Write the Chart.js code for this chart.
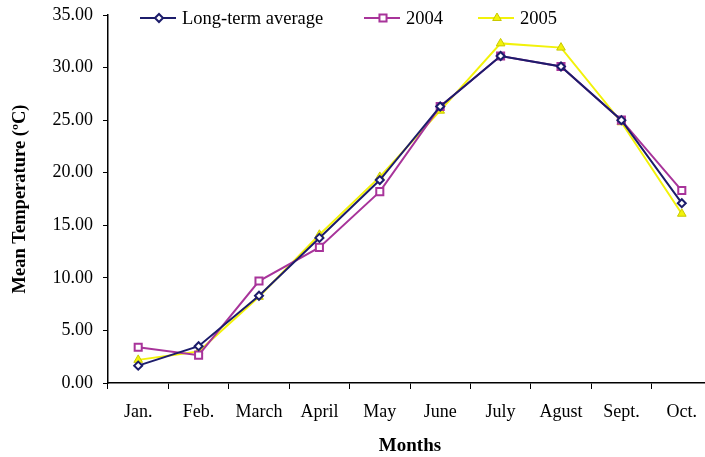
<!DOCTYPE html>
<html>
<head>
<meta charset="utf-8">
<script src="https://cdn.jsdelivr.net/npm/chart.js@4"></script>
<style>
  html, body { margin: 0; padding: 0; background: #fff; overflow: hidden; }
  #wrap { width: 720px; height: 457px; }
</style>
</head>
<body>
<div id="wrap"><canvas id="chart"></canvas></div>
<script>
const months = ["Jan.", "Feb.", "March", "April", "May", "June", "July", "Agust", "Sept.", "Oct."];
const longTermAverage = [1.65, 3.5, 8.3, 13.8, 19.3, 26.3, 31.1, 30.1, 25.0, 17.1];
const year2004 = [3.4, 2.65, 9.7, 12.9, 18.2, 26.3, 31.1, 30.1, 25.0, 18.3];
const year2005 = [2.2, 3.0, 8.2, 14.1, 19.6, 25.9, 32.3, 31.9, 24.8, 16.1];

const NAVY = "#1c1c6b";
const MAGENTA = "#a8349a";
const YELLOW = "#f2f20a";
const FONT = "'Liberation Serif', 'Times New Roman', serif";

// legend drawn over the top of the plot, like the original
const overlayLegend = {
    id: "overlayLegend",
    afterDraw(chart) {
        const ctx = chart.ctx;
        const items = [
            { label: "Long-term average", x: 140, ds: 0 },
            { label: "2004", x: 364, ds: 1 },
            { label: "2005", x: 478, ds: 2 },
        ];
        const y = 18;
        ctx.save();
        ctx.font = "18.5px " + FONT;
        ctx.textBaseline = "middle";
        items.forEach(it => {
            const ds = chart.data.datasets[it.ds];
            ctx.strokeStyle = ds.borderColor;
            ctx.lineWidth = 2;
            ctx.beginPath();
            ctx.moveTo(it.x, y);
            ctx.lineTo(it.x + 36, y);
            ctx.stroke();
            ctx.fillStyle = ds.pointBackgroundColor;
            ctx.strokeStyle = ds.pointBorderColor;
            ctx.lineWidth = ds.pointBorderWidth;
            Chart.helpers.drawPoint(ctx, {
                pointStyle: ds.pointStyle,
                radius: ds.pointRadius,
                borderWidth: ds.pointBorderWidth,
                rotation: 0,
            }, it.x + 19, y);
            ctx.fillStyle = "#000";
            ctx.fillText(it.label, it.x + 42, y + 1);
        });
        ctx.restore();
    }
};

new Chart(document.getElementById("chart"), {
    type: "line",
    data: {
        labels: months,
        datasets: [{
            label: "Long-term average",
            data: longTermAverage,
            borderColor: NAVY,
            borderWidth: 2,
            backgroundColor: "#fff",
            pointStyle: "rectRot",
            pointRadius: 4,
            pointBorderWidth: 2,
            pointBorderColor: NAVY,
            pointBackgroundColor: "#fff",
            tension: 0,
        }, {
            label: "2004",
            data: year2004,
            borderColor: MAGENTA,
            borderWidth: 2,
            backgroundColor: "#fff",
            pointStyle: "rect",
            pointRadius: 5,
            pointBorderWidth: 2,
            pointBorderColor: MAGENTA,
            pointBackgroundColor: "#fff",
            tension: 0,
        }, {
            label: "2005",
            data: year2005,
            borderColor: YELLOW,
            borderWidth: 2,
            backgroundColor: YELLOW,
            pointStyle: "triangle",
            pointRadius: 5,
            pointBorderWidth: 1,
            pointBorderColor: "#c8c800",
            pointBackgroundColor: YELLOW,
            tension: 0,
        }]
    },
    options: {
        responsive: true,
        maintainAspectRatio: false,
        animation: false,
        layout: { padding: { top: 15, right: 8, left: 0, bottom: 0 } },
        plugins: {
            legend: { display: false },
            tooltip: { enabled: false },
        },
        scales: {
            x: {
                offset: true,
                grid: {
                    offset: true,
                    drawOnChartArea: false,
                    drawTicks: true,
                    tickLength: 6,
                    color: "#000",
                },
                border: { color: "#000", width: 1.5 },
                ticks: {
                    color: "#000",
                    padding: 12,
                    maxRotation: 0,
                    autoSkip: false,
                    font: { family: FONT, size: 18 },
                },
                title: {
                    display: true,
                    text: "Months",
                    color: "#000",
                    font: { family: FONT, size: 19, weight: "bold" },
                    padding: { top: 0, bottom: 0 },
                },
                afterFit(scale) { scale.height = 74; },
            },
            y: {
                min: 0,
                max: 35,
                grid: {
                    drawOnChartArea: false,
                    drawTicks: true,
                    tickLength: 5,
                    color: "#000",
                },
                border: { color: "#000", width: 1.5 },
                ticks: {
                    stepSize: 5,
                    color: "#000",
                    padding: 10,
                    font: { family: FONT, size: 18 },
                    callback: v => v.toFixed(2),
                },
                title: {
                    display: true,
                    text: "Mean Temperature (ºC)",
                    color: "#000",
                    font: { family: FONT, size: 18.5, weight: "bold" },
                    padding: { top: 9, bottom: 0 },
                },
                afterFit(scale) {
                    scale.width = 108;
                    scale.paddingTop = 0;
                    scale.paddingBottom = 0;
                },
            }
        }
    },
    plugins: [overlayLegend]
});
</script>
</body>
</html>
